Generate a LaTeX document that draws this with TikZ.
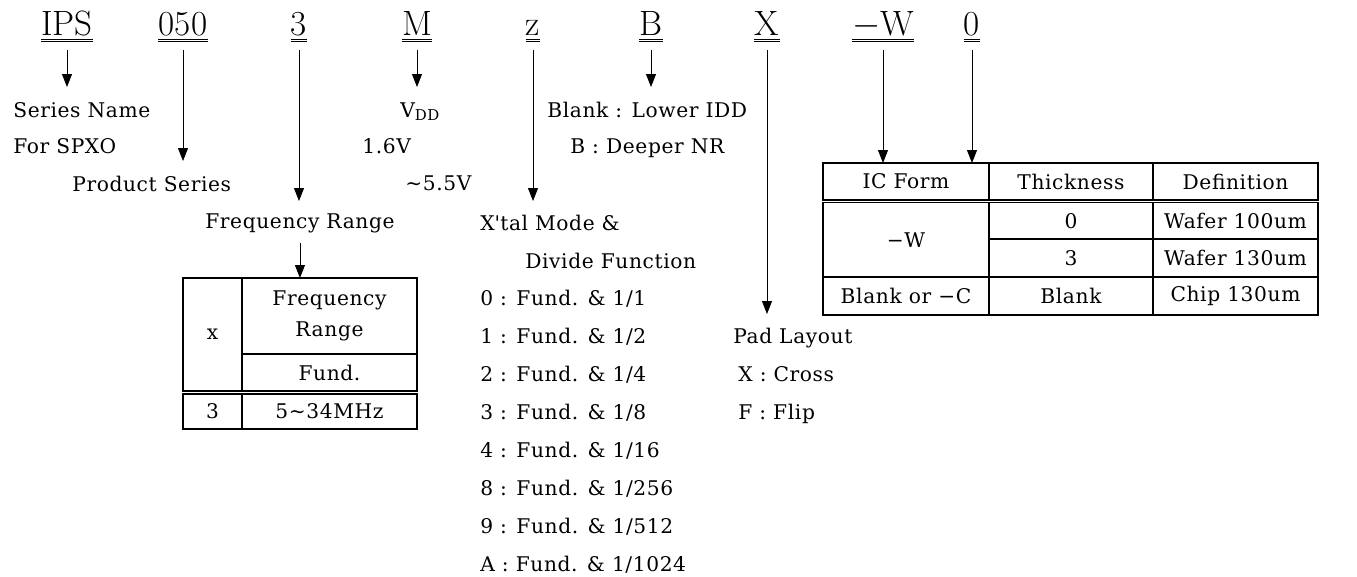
\documentclass[tikz,border=0pt]{standalone}
\usepackage{fontspec}
\newfontfamily\bodyfont{DejaVu Serif}[LetterSpace=3]
\usetikzlibrary{arrows.meta}
\begin{document}
\begin{tikzpicture}[
  x=0.02cm, y=-0.02cm,
  code/.style={anchor=base, inner sep=0, text depth=0pt, font=\fontsize{20}{24}\selectfont},
  uline/.style={draw, line width=0.5pt, double, double distance=0.6pt},
  lbl/.style={anchor=base west, inner sep=0, font=\fontsize{11.5}{13}\bodyfont},
  arr/.style={-{Triangle[length=0.26cm,width=0.2cm]}, line width=0.5pt, shorten <=0.3cm},
  cell/.style={draw, line width=0.8pt, inner sep=0, outer sep=0, align=center,
    font=\fontsize{11.5}{18}\bodyfont}
]
\useasboundingbox (0,0) rectangle (1357,576);
% part number
\node[code] (hips) at (67,35) {IPS};
\node[code] (h050) at (183,35) {050};
\node[code] (h3)   at (299,35) {3};
\node[code] (hm)   at (417,35) {M};
\node[code] (hz)   at (533,35) {z};
\node[code] (hb)   at (651,35) {B};
\node[code] (hx)   at (767,35) {X};
\node[code] (hw)   at (883,35) {$-$W};
\node[code] (h0)   at (972,35) {0};
\foreach \n in {hips,h050,h3,hm,hz,hb,hx,hw,h0}
  \draw[uline] ([yshift=-0.11cm]\n.south west) -- ([yshift=-0.11cm]\n.south east);
% labels
\node[lbl] (sname)  at (13,117)  {Series Name};
\node[lbl] (spxo)   at (13,153)  {For SPXO};
\node[lbl] (pser)   at (72,191)  {Product Series};
\node[lbl] (frange) at (205,228) {Frequency Range};
\node[lbl] (vdd)    at (400,117) {V\raisebox{-0.15em}{\fontsize{8.5}{9}\bodyfont DD}};
\node[lbl] (v16)    at (362,153) {1.6V};
\node[lbl] (v55)    at (405,190) {\textasciitilde5.5V};
\node[lbl] (blank)  at (547,117) {Blank : Lower IDD};
\node[lbl] (deeper) at (570,153) {B : Deeper NR};
\node[lbl] (xtal)   at (480,230) {X\textquotesingle tal Mode \&};
\node[lbl] (divf)   at (525,268) {Divide Function};
\foreach \k/\d [count=\i from 0] in {0/1,1/2,2/4,3/8,4/16,8/256,9/512,A/1024}
  \node[lbl] (div\i) at (480,305+38*\i) {\k{} : Fund. \& 1/\d};
\node[lbl] (pad)    at (733,343) {Pad Layout};
\node[lbl] (cross)  at (738,381) {X : Cross};
\node[lbl] (flip)   at (738,419) {F : Flip};
% arrow tips
\coordinate (tips) at (67,87);
\coordinate (t050) at (183,161);
\coordinate (t3)   at (299,201);
\coordinate (tm)   at (417,87);
\coordinate (tz)   at (533,201);
\coordinate (tb)   at (651,87);
\coordinate (tx)   at (767,314);
% frequency table
\node[cell, minimum width=1.18cm, minimum height=2.26cm] (cx)   at (212.5,334.5) {x};
\node[cell, minimum width=3.5cm,  minimum height=1.52cm] (cfr)  at (329.5,316)   {Frequency\\Range};
\node[cell, minimum width=3.5cm,  minimum height=0.74cm] (cfd)  at (329.5,372.5) {Fund.};
\node[cell, minimum width=1.18cm, minimum height=0.7cm]  (c3)   at (212.5,411.5) {3};
\node[cell, minimum width=3.5cm,  minimum height=0.7cm]  (cmhz) at (329.5,411.5) {5\textasciitilde34MHz};
% IC form table
\node[cell, minimum width=3.32cm, minimum height=0.74cm] (icf)  at (906,181.5)    {IC Form};
\node[cell, minimum width=3.28cm, minimum height=0.74cm] (thk)  at (1071,181.5)   {Thickness};
\node[cell, minimum width=3.3cm,  minimum height=0.74cm] (dfn)  at (1235.5,181.5) {Definition};
\node[cell, minimum width=3.32cm, minimum height=1.49cm] (cw)   at (906,239.8)    {−W};
\node[cell, minimum width=3.28cm, minimum height=0.73cm] (th0)  at (1071,220.8)   {0};
\node[cell, minimum width=3.3cm,  minimum height=0.73cm] (w100) at (1235.5,220.8) {Wafer 100um};
\node[cell, minimum width=3.28cm, minimum height=0.76cm] (th3)  at (1071,258)     {3};
\node[cell, minimum width=3.3cm,  minimum height=0.76cm] (w130) at (1235.5,258)   {Wafer 130um};
\node[cell, minimum width=3.32cm, minimum height=0.76cm] (bc)   at (906,296)      {Blank or −C};
\node[cell, minimum width=3.28cm, minimum height=0.76cm] (thb)  at (1071,296)     {Blank};
\node[cell, minimum width=3.3cm,  minimum height=0.76cm] (c130) at (1235.5,296)   {Chip 130um};
% arrows
\draw[arr] (hips) -- (tips);
\draw[arr] (h050) -- (t050);
\draw[arr] (h3) -- (t3);
\draw[arr] (hm) -- (tm);
\draw[arr] (hz) -- (tz);
\draw[arr] (hb) -- (tb);
\draw[arr] (hx) -- (tx);
\draw[arr] (hw) -- (hw |- icf.north);
\draw[arr] (h0) -- (h0 |- thk.north);
\draw[arr, shorten <=0.2cm] (frange.south) -- (frange.south |- cfr.north);
\end{tikzpicture}
\end{document}
